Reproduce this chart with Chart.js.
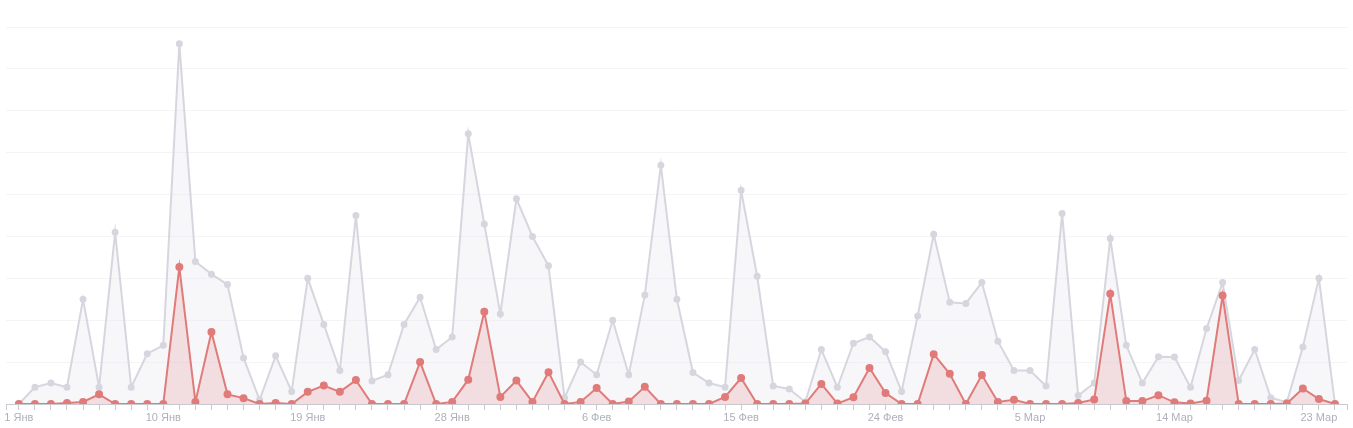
<!DOCTYPE html>
<html>
<head>
<meta charset="utf-8">
<script src="https://cdn.jsdelivr.net/npm/chart.js@4/dist/chart.umd.min.js"></script>
<style>
  html, body { margin: 0; padding: 0; background: #fff; }
  #wrap { width: 1353px; height: 428px; position: relative; }
</style>
</head>
<body>
<div id="wrap"><canvas id="grafico"></canvas></div>
<script>
  // один отсчёт в день, с 1 января по 24 марта
  var tickLabels = ['1 Янв', '10 Янв', '19 Янв', '28 Янв', '6 Фев', '15 Фев', '24 Фев', '5 Мар', '14 Мар', '23 Мар'];
  var tickStep = 9;

  var visits = [
    0, 4, 5, 4, 25, 4, 41, 4, 12, 14,
    86, 34, 31, 28.5, 11, 1, 11.5, 3, 30, 19,
    8, 45, 5.5, 7, 19, 25.5, 13, 16, 64.5, 43,
    21.5, 49, 40, 33, 1.5, 10, 7, 20, 7, 26,
    57, 25, 7.5, 5, 4, 51, 30.5, 4.3, 3.6, 0.5,
    13, 4, 14.5, 16, 12.5, 3, 21, 40.5, 24.3, 24,
    29, 15, 8, 8, 4.3, 45.5, 2, 5, 39.5, 14,
    5, 11.3, 11.2, 4, 18, 29, 5.6, 13, 1.5, 0.4,
    13.6, 30, 0
  ];

  var orders = [
    0, 0, 0, 0.25, 0.5, 2.3, 0, 0, 0, 0,
    32.7, 0.5, 17.2, 2.3, 1.4, 0, 0.25, 0, 2.9, 4.4,
    2.9, 5.7, 0, 0, 0, 10, 0, 0.5, 5.8, 22,
    1.7, 5.6, 0.5, 7.6, 0, 0.5, 3.8, 0, 0.6, 4.1,
    0, 0, 0, 0, 1.7, 6.2, 0, 0, 0, 0.1,
    4.8, 0.1, 1.6, 8.6, 2.6, 0, 0, 11.9, 7.2, 0,
    6.9, 0.5, 1, 0, 0, 0, 0.25, 1.1, 26.3, 0.7,
    0.7, 2.1, 0.4, 0.1, 0.8, 25.9, 0, 0, 0, 0.1,
    3.7, 1.2, 0
  ];

  function pontos(serie) {
    return serie.map(function (v, i) { return { x: i, y: v }; });
  }

  var corCinza = '#d6d6df';
  var corVermelho = '#e07b7a';
  var corTexto = '#aeb1bb';

  new Chart(document.getElementById('grafico'), {
    type: 'line',
    data: {
      datasets: [
        {
          label: 'orders',
          data: pontos(orders),
          borderColor: corVermelho,
          backgroundColor: 'rgba(224,123,122,0.2)',
          pointBackgroundColor: corVermelho,
          pointBorderColor: corVermelho,
          pointRadius: 3,
          borderWidth: 2,
          tension: 0,
          fill: 'origin'
        },
        {
          label: 'visits',
          data: pontos(visits),
          borderColor: corCinza,
          backgroundColor: 'rgba(232,232,242,0.35)',
          pointBackgroundColor: corCinza,
          pointBorderColor: corCinza,
          pointRadius: 2.5,
          borderWidth: 2,
          tension: 0,
          fill: 'origin'
        }
      ]
    },
    options: {
      responsive: true,
      maintainAspectRatio: false,
      animation: false,
      layout: { padding: { top: 27, left: 3, right: 5, bottom: 0 } },
      plugins: { legend: { display: false }, tooltip: { enabled: false } },
      scales: {
        x: {
          type: 'linear',
          min: -0.8,
          max: 82.75,
          afterFit: function (scale) { scale.height = 24; },
          afterBuildTicks: function (scale) {
            // тик на каждый день плюс края оси
            var t = [{ value: scale.min }];
            visits.forEach(function (v, i) { t.push({ value: i }); });
            t.push({ value: scale.max });
            scale.ticks = t;
          },
          grid: { drawOnChartArea: false, drawTicks: true, tickLength: 6, color: '#c9cad0' },
          border: { color: '#c9cad0', width: 1 },
          ticks: {
            autoSkip: false,
            maxRotation: 0,
            padding: 1,
            color: corTexto,
            font: { family: '"Liberation Sans", Arial, sans-serif', size: 11 },
            callback: function (v) {
              var n = Math.round(v);
              if (Math.abs(v - n) < 0.01 && n >= 0 && n % tickStep === 0) {
                return tickLabels[n / tickStep] || '';
              }
              return '';
            }
          }
        },
        y: {
          min: 0,
          max: 90,
          ticks: { display: false, stepSize: 10 },
          grid: { color: '#f4f4f6', drawTicks: false },
          border: { display: false }
        }
      }
    }
  });
</script>
</body>
</html>
